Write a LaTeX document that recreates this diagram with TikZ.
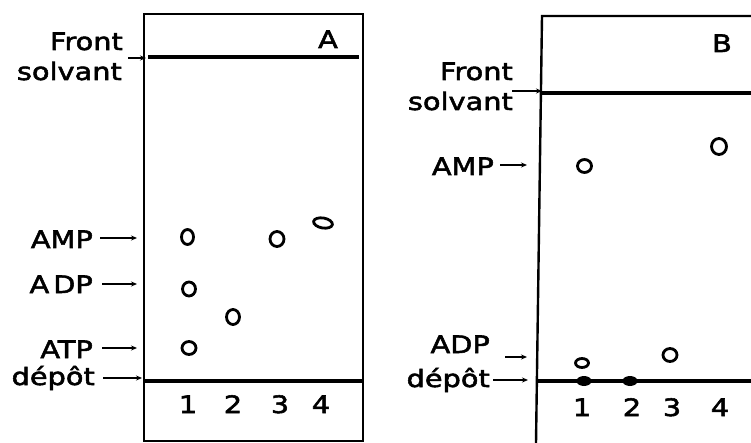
\documentclass[tikz,border=0pt]{standalone}
\usepackage{fontspec}
\newfontfamily\lab[FakeStretch=1.2,FakeBold=2.2]{DejaVu Sans}
\usetikzlibrary{arrows.meta}
\tikzset{
  lbl/.style={font=\lab\fontsize{24}{26}\selectfont, inner sep=0pt, anchor=base east},
  num/.style={font=\lab\fontsize{24}{26}\selectfont, inner sep=0pt, anchor=base},
  frame/.style={line width=2.4pt},
  front/.style={line width=3.4pt},
  ptr/.style={line width=2.2pt, -{Stealth[length=6pt,width=5pt]}},
  spot/.style={line width=2.8pt},
  fspot/.style={fill=black},
}
\begin{document}
\begin{tikzpicture}[x=1pt,y=-1pt]
\useasboundingbox (0,0) rectangle (751,443);
% ---------------- Panel A ----------------
\draw[frame] (144,14) rectangle (363,441);
\draw[front] (148,57) -- (359,57);
\draw[front] (144,381) -- (363,381);
\node[num] (labA) at (328,48) {A};
\node[lbl] (frA) at (123,50) {Front};
\node[lbl] (soA) at (122,80) {solvant};
\coordinate (frAt) at (128,58);
\coordinate (frAh) at (146,58);
\draw[ptr] (frAt) -- (frAh);
\node[lbl] (ampA) at (93,248) {AMP};
\node[lbl] (adpA) at (93,293) {A\hspace{4pt}DP};
\node[lbl] (atpA) at (93,358) {ATP};
\node[lbl] (depA) at (95,385) {dépôt};
\coordinate (ampAt) at (100,238); \coordinate (ampAh) at (137,238);
\coordinate (adpAt) at (102,284); \coordinate (adpAh) at (137,284);
\coordinate (atpAt) at (102,348); \coordinate (atpAh) at (137,348);
\coordinate (depAt) at (103,378); \coordinate (depAh) at (142,378);
\draw[ptr] (ampAt) -- (ampAh);
\draw[ptr] (adpAt) -- (adpAh);
\draw[ptr] (atpAt) -- (atpAh);
\draw[ptr] (depAt) -- (depAh);
\node[num] (nA1) at (188,413) {1};
\node[num] (nA2) at (233,413) {2};
\node[num] (nA3) at (280,413) {3};
\node[num] (nA4) at (321,413) {4};
\draw[spot] (187.5,237) ellipse [x radius=6, y radius=7.5];
\draw[spot] (189,289) ellipse [x radius=6.5, y radius=7];
\draw[spot] (189,348) ellipse [x radius=7, y radius=6.5];
\draw[spot] (233,317) ellipse [x radius=6.5, y radius=7.5];
\draw[spot] (277,239) ellipse [x radius=7, y radius=7.5];
\draw[spot, rotate around={-10:(323,223)}] (323,223) ellipse [x radius=9.5, y radius=5];
% ---------------- Panel B ----------------
\draw[frame] (751,16) -- (542,16) -- (536,443);
\draw[front] (542,93) -- (751,93);
\draw[front] (537,381) -- (751,381);
\node[num] (labB) at (722,52) {B};
\node[lbl] (frB) at (513,80) {Front};
\node[lbl] (soB) at (513,110) {solvant};
\coordinate (frBt) at (512,91);
\coordinate (frBh) at (542,91);
\draw[ptr] (frBt) -- (frBh);
\node[lbl] (ampB) at (494,175) {AMP};
\node[lbl] (adpB) at (490,353) {ADP};
\node[lbl] (depB) at (490,387) {dépôt};
\coordinate (ampBt) at (500,165); \coordinate (ampBh) at (527,165);
\coordinate (adpBt) at (505,357); \coordinate (adpBh) at (527,357);
\coordinate (depBt) at (493,380); \coordinate (depBh) at (528,380);
\draw[ptr] (ampBt) -- (ampBh);
\draw[ptr] (adpBt) -- (adpBh);
\draw[ptr] (depBt) -- (depBh);
\node[num] (nB1) at (582,416) {1};
\node[num] (nB2) at (632,416) {2};
\node[num] (nB3) at (672,416) {3};
\node[num] (nB4) at (720,416) {4};
\draw[spot] (584.5,166) ellipse [x radius=7, y radius=6.5];
\draw[spot] (719,146.5) ellipse [x radius=7.5, y radius=8];
\draw[spot] (582,363) ellipse [x radius=6.5, y radius=4.5];
\draw[spot] (670,355) ellipse [x radius=7, y radius=6.5];
\fill[fspot] (584,381) ellipse [x radius=7.5, y radius=5];
\fill[fspot] (630,381) ellipse [x radius=7.5, y radius=5];
\end{tikzpicture}
\end{document}
